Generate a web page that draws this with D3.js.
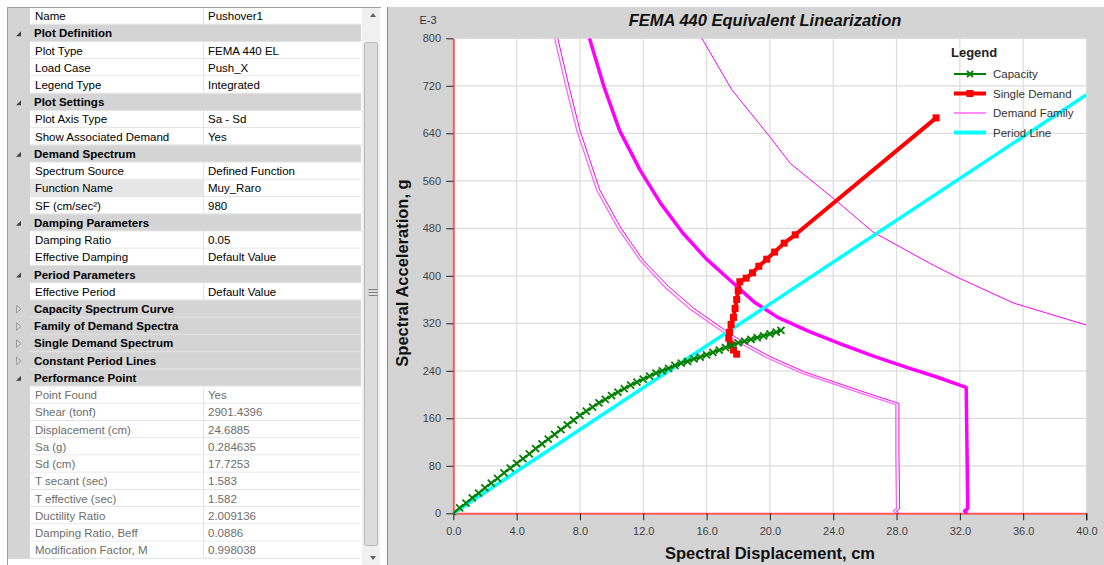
<!DOCTYPE html>
<html><head><meta charset="utf-8">
<script src="https://cdn.jsdelivr.net/npm/d3@7"></script>
<style>
html,body{margin:0;padding:0;background:#fff;}
svg{display:block;}
</style></head>
<body>
<svg id="c" width="1104" height="565"></svg>
<script>
// ---------- property grid data ----------
const propNames = ["Name","Plot Definition","Plot Type","Load Case","Legend Type","Plot Settings","Plot Axis Type","Show Associated Demand","Demand Spectrum","Spectrum Source","Function Name","SF (cm/sec²)","Damping Parameters","Damping Ratio","Effective Damping","Period Parameters","Effective Period","Capacity Spectrum Curve","Family of Demand Spectra","Single Demand Spectrum","Constant Period Lines","Performance Point","Point Found","Shear (tonf)","Displacement (cm)","Sa (g)","Sd (cm)","T secant (sec)","T effective (sec)","Ductility Ratio","Damping Ratio, Beff","Modification Factor, M"];
const propValues = ["Pushover1","","FEMA 440 EL","Push_X","Integrated","","Sa - Sd","Yes","","Defined Function","Muy_Raro","980","","0.05","Default Value","","Default Value","","","","","","Yes","2901.4396","24.6885","0.284635","17.7253","1.583","1.582","2.009136","0.0886","0.998038"];
// row kinds: p = property, o = open category, c = collapsed category, r = read-only
const propKinds = ["p","o","p","p","p","o","p","p","o","p","p","p","o","p","p","o","p","c","c","c","c","o","r","r","r","r","r","r","r","r","r","r"];

// ---------- chart data ----------
const chartTitle = "FEMA 440 Equivalent Linearization";
const xTicks = [0,4,8,12,16,20,24,28,32,36,40];
const yTicks = [0,80,160,240,320,400,480,560,640,720,800];
const legendLabels = ["Capacity","Single Demand","Demand Family","Period Line"];

const capacitySd = [0,0.4,0.8,1.2,1.6,2.0,2.4,2.8,3.2,3.6,4.0,4.4,4.8,5.2,5.6,6.0,6.4,6.8,7.2,7.6,8.0,8.4,8.8,9.2,9.6,10.0,10.4,10.8,11.2,11.6,12.0,12.4,12.8,13.2,13.6,14.0,14.4,14.8,15.2,15.6,16.0,16.4,16.8,17.2,17.6,18.0,18.4,18.8,19.2,19.6,20.0,20.4,20.7];
const capacitySa = [0,9,17,26,34,43,51,59,68,76,84,92,100,109,117,125,133,141,149,157,165,172,179,186,192,198,204,210,216,221,226,231,236,240,244,249,253,256,260,263,267,271,275,279,283,287,290,293,296,299,302,305,308];

const singleSd = [17.9,17.7,17.5,17.4,17.45,17.55,17.7,17.8,17.9,18.0,18.1,18.5,18.9,19.3,19.8,20.3,20.9,21.6,30.5];
const singleSa = [268,275,285,295,305,318,330,345,360,375,390,396,405,416,428,440,455,469,666];

// demand spectrum drawn with the single demand (thick)
const demandThickSd = [8.6,9.5,10.5,11.8,13.1,14.5,16.0,17.5,19.0,20.5,22.5,24.5,26.5,28.5,30.5,32.4,32.45,32.5,32.3,32.45];
const demandThickSa = [800,720,645,578,522,472,428,392,356,330,306,285,265,247,230,212,110,8,4,0];

// family of demand spectra (thin)
const familyASd = [6.4,7.1,7.8,9.06,10.4,11.8,13.4,15.0,16.5,18.0,19.8,22.0,24.0,26.0,27.95,27.95,28.0,27.8,27.95];
const familyASa = [800,720,645,544,480,426,380,343,315,288,262,236,218,200,183,100,8,4,0];
const familyBSd = [6.6,7.3,8.0,9.26,10.6,12.0,13.6,15.2,16.7,18.2,20.0,22.2,24.2,26.2,28.15,28.15,28.2,28.0,28.15];
const familyBSa = [800,720,645,544,480,426,382,345,317,290,264,238,220,202,185,100,8,4,0];
const familyCSd = [15.7,17.6,20.0,21.3,24.3,26.5,30.1,31.8,35.4,40];
const familyCSa = [800,713,634,589,524,474,421,398,354,317];

const periodSd = [0,40];
const periodSa = [0,705];

// ---------- drawing ----------
const svg = d3.select("#c");
const FONT = "'Liberation Sans', Arial, sans-serif";

// ===== property grid =====
const grid = svg.append("g");
const rowH = 17.23, gridTop = 7.5, colL = 30, colM = 203, colR = 361;
grid.append("rect").attr("x",0).attr("y",0).attr("width",386).attr("height",565).attr("fill","#fff");
grid.append("rect").attr("x",7).attr("y",gridTop).attr("width",colL-7).attr("height",rowH*propNames.length).attr("fill","#d4d4d4");
propNames.forEach((n,i)=>{
  const y0 = gridTop + i*rowH;
  const k = propKinds[i];
  const cat = (k==="o"||k==="c");
  if(cat){
    grid.append("rect").attr("x",colL).attr("y",y0).attr("width",colR-colL).attr("height",rowH).attr("fill","#d4d4d4");
    // glyph
    if(k==="o"){
      grid.append("path").attr("d",`M${16},${y0+11.5} L${21},${y0+11.5} L${21},${y0+6.5} Z`).attr("fill","#444");
    } else {
      grid.append("path").attr("d",`M${16.5},${y0+5} L${21},${y0+8.8} L${16.5},${y0+12.6} Z`).attr("fill","none").attr("stroke","#999").attr("stroke-width",0.9);
    }
    grid.append("text").attr("x",colL+4).attr("y",y0+rowH/2+4).attr("font-family",FONT).attr("font-size","11.5px").attr("font-weight","bold").attr("fill","#000").text(n);
  } else {
    const bg = (n==="Function Name") ? "#e6e6e6" : "#fff";
    grid.append("rect").attr("x",colL).attr("y",y0).attr("width",colM-colL).attr("height",rowH-1).attr("fill",bg);
    grid.append("rect").attr("x",colM+1).attr("y",y0).attr("width",colR-colM-1).attr("height",rowH-1).attr("fill","#fff");
    const col = (k==="r") ? "#6d6d6d" : "#000";
    grid.append("text").attr("x",colL+5).attr("y",y0+rowH/2+4).attr("font-family",FONT).attr("font-size","11.5px").attr("fill",col).text(n);
    grid.append("text").attr("x",colM+5).attr("y",y0+rowH/2+4).attr("font-family",FONT).attr("font-size","11.5px").attr("fill",col).text(propValues[i]);
  }
  grid.append("line").attr("x1",colL).attr("x2",colR).attr("y1",y0+rowH-0.5).attr("y2",y0+rowH-0.5).attr("stroke","#e3e3e3");
  if(!cat) grid.append("line").attr("x1",colM+0.5).attr("x2",colM+0.5).attr("y1",y0).attr("y2",y0+rowH).attr("stroke","#e3e3e3");
});
// outer border of grid
grid.append("line").attr("x1",7.5).attr("x2",7.5).attr("y1",gridTop).attr("y2",565).attr("stroke","#a0a0a0");
grid.append("line").attr("x1",7).attr("x2",381).attr("y1",gridTop).attr("y2",gridTop).attr("stroke","#a0a0a0");
// scrollbar
grid.append("rect").attr("x",362).attr("y",gridTop+0.5).attr("width",18).attr("height",557).attr("fill","#f0f0f0");
grid.append("rect").attr("x",364.5).attr("y",42.5).attr("width",13).attr("height",503).attr("rx",2).attr("fill","#dcdcdc").attr("stroke","#b8b8b8");
grid.append("path").attr("d","M370,17 L376,17 L373,13 Z").attr("fill","#606060");
grid.append("path").attr("d","M370,556 L376,556 L373,560 Z").attr("fill","#606060");
[289.5,292.5,295.5].forEach(yy=>grid.append("line").attr("x1",368.5).attr("x2",377.5).attr("y1",yy).attr("y2",yy).attr("stroke","#808080"));

// ===== chart panel =====
const cp = svg.append("g");
cp.append("rect").attr("x",387).attr("y",7).attr("width",717).attr("height",558).attr("fill","#d4d4d4");
cp.append("line").attr("x1",387.5).attr("x2",387.5).attr("y1",7).attr("y2",565).attr("stroke","#8c8c8c");

const x = d3.scaleLinear().domain([0,40]).range([453.3,1086.5]);
const y = d3.scaleLinear().domain([0,800]).range([513.3,38.3]);

cp.append("rect").attr("x",x(0)).attr("y",y(800)).attr("width",x(40)-x(0)).attr("height",y(0)-y(800)).attr("fill","#fff");

// grid lines
cp.append("g").selectAll("line.gx").data(xTicks.slice(1)).join("line")
  .attr("x1",d=>x(d)).attr("x2",d=>x(d)).attr("y1",y(0)).attr("y2",y(800)).attr("stroke","#dcdcdc").attr("stroke-width",1.2);
cp.append("g").selectAll("line.gy").data(yTicks.slice(1)).join("line")
  .attr("x1",x(0)).attr("x2",x(40)).attr("y1",d=>y(d)).attr("y2",d=>y(d)).attr("stroke","#dcdcdc").attr("stroke-width",1.2);

// axes
const xAxis = d3.axisBottom(x).tickValues(xTicks).tickFormat(d3.format(".1f")).tickSize(7).tickSizeOuter(0);
const yAxis = d3.axisLeft(y).tickValues(yTicks).tickFormat(d3.format("d")).tickSize(7).tickSizeOuter(0);
const gx = cp.append("g").attr("transform",`translate(0,${y(0)})`).call(xAxis);
const gy = cp.append("g").attr("transform",`translate(${x(0)},0)`).call(yAxis);
[gx,gy].forEach(g=>{
  g.select(".domain").attr("stroke","#ff5a5a").attr("stroke-width",2);
  g.selectAll(".tick line").attr("stroke","#222");
  g.selectAll(".tick text").attr("font-family",FONT).attr("font-size","11px").attr("fill","#444");
});
gx.selectAll(".tick text").attr("dy","1.1em");
gy.selectAll(".tick text").attr("dx","-0.2em");
// red top-left corner continuity
cp.append("line").attr("x1",x(40)).attr("x2",x(40)).attr("y1",y(0)).attr("y2",y(0)+7).attr("stroke","#222");

cp.append("text").attr("x",428).attr("y",24).attr("text-anchor","middle").attr("font-family",FONT).attr("font-size","11px").attr("fill","#333").text("E-3");
cp.append("text").attr("x",765).attr("y",26).attr("text-anchor","middle").attr("font-family",FONT).attr("font-size","16.5px").attr("font-weight","bold").attr("font-style","italic").attr("fill","#111").text(chartTitle);
cp.append("text").attr("x",770).attr("y",559).attr("text-anchor","middle").attr("font-family",FONT).attr("font-size","16.5px").attr("font-weight","bold").attr("fill","#111").text("Spectral Displacement, cm");
cp.append("text").attr("transform","translate(408,273) rotate(-90)").attr("text-anchor","middle").attr("font-family",FONT).attr("font-size","16.5px").attr("font-weight","bold").attr("fill","#111").text("Spectral Acceleration, g");

// clip
svg.append("clipPath").attr("id","pc").append("rect").attr("x",x(0)).attr("y",y(800)).attr("width",x(40)-x(0)).attr("height",y(0)-y(800)+2);
const plot = cp.append("g").attr("clip-path","url(#pc)");
const line = d3.line().x(d=>x(d[0])).y(d=>y(d[1]));
const zip = (a,b)=>a.map((v,i)=>[v,b[i]]);

// demand family
plot.append("path").datum(zip(familyCSd,familyCSa)).attr("d",line).attr("fill","none").attr("stroke","#ff00ff").attr("stroke-width",1);
plot.append("path").datum(zip(familyASd,familyASa)).attr("d",line).attr("fill","none").attr("stroke","#ff66ff").attr("stroke-width",1.3);
plot.append("path").datum(zip(familyBSd,familyBSa)).attr("d",line).attr("fill","none").attr("stroke","#ff00ff").attr("stroke-width",1);
// thick demand
plot.append("path").datum(zip(demandThickSd,demandThickSa)).attr("d",line).attr("fill","none").attr("stroke","#ff00ff").attr("stroke-width",3.5).attr("stroke-linejoin","round");
// period line
plot.append("path").datum(zip(periodSd,periodSa)).attr("d",line).attr("fill","none").attr("stroke","#00ffff").attr("stroke-width",3.5);
// single demand
const sd = zip(singleSd,singleSa);
plot.append("path").datum(sd).attr("d",line).attr("fill","none").attr("stroke","#ff0000").attr("stroke-width",4).attr("stroke-linejoin","round");
plot.selectAll("rect.sq").data(sd).join("rect").attr("x",d=>x(d[0])-3.5).attr("y",d=>y(d[1])-3.5).attr("width",7).attr("height",7).attr("fill","#ff0000");
// capacity
const cap = zip(capacitySd,capacitySa);
plot.append("path").datum(cap).attr("d",line).attr("fill","none").attr("stroke","#008000").attr("stroke-width",2);
plot.selectAll("path.cx").data(cap).join("path")
  .attr("d",d=>{const cx=x(d[0]),cy=y(d[1]),s=3.5;return `M${cx-s},${cy-s}L${cx+s},${cy+s}M${cx-s},${cy+s}L${cx+s},${cy-s}`;})
  .attr("stroke","#008000").attr("stroke-width",1.8);

// legend
const lg = cp.append("g");
lg.append("text").attr("x",951).attr("y",57).attr("font-family",FONT).attr("font-size","13px").attr("font-weight","bold").attr("fill","#222").text("Legend");
const lgColors = ["#008000","#ff0000","#ff66ff","#00ffff"];
const lgWidths = [2,4,1.5,4];
legendLabels.forEach((t,i)=>{
  const yy = 74 + i*19.5;
  lg.append("line").attr("x1",954).attr("x2",986).attr("y1",yy).attr("y2",yy).attr("stroke",lgColors[i]).attr("stroke-width",lgWidths[i]);
  if(i===0){lg.append("path").attr("d",`M967,${yy-3}L973,${yy+3}M967,${yy+3}L973,${yy-3}`).attr("stroke","#008000").attr("stroke-width",1.8);}
  if(i===1){lg.append("rect").attr("x",966.5).attr("y",yy-3.5).attr("width",7).attr("height",7).attr("fill","#ff0000");}
  lg.append("text").attr("x",993).attr("y",yy+4).attr("font-family",FONT).attr("font-size","11.5px").attr("fill","#333").text(t);
});
</script>
</body></html>
